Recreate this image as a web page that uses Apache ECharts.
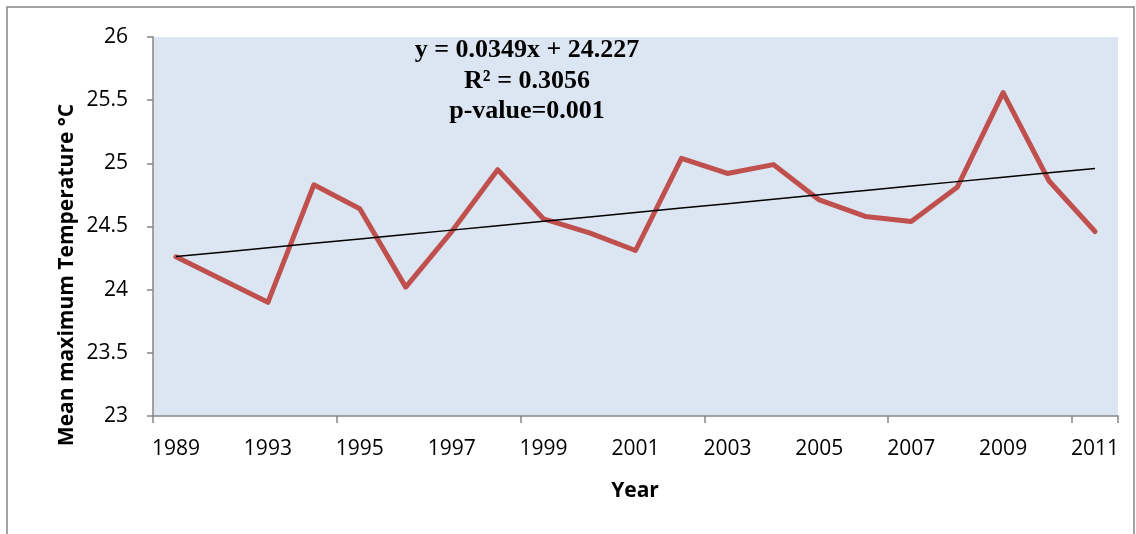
<!DOCTYPE html>
<html>
<head>
<meta charset="utf-8">
<script src="https://cdn.jsdelivr.net/npm/echarts@6/dist/echarts.min.js"></script>
<style>
html,body{margin:0;padding:0;background:#fff;}
#chart{width:1136px;height:534px;}
</style>
</head>
<body>
<div id="chart"></div>
<script>
// Categories (years) - labels shown every second category
var years = ['1989','1992','1993','1994','1995','1996','1997','1998','1999','2000','2001','2002','2003','2004','2005','2006','2007','2008','2009','2010','2011'];
// Mean maximum temperature (°C)
var tmax = [24.26, 24.08, 23.90, 24.83, 24.64, 24.02, 24.46, 24.95, 24.56, 24.45, 24.31, 25.04, 24.92, 24.99, 24.71, 24.58, 24.54, 24.81, 25.56, 24.86, 24.46];
// Linear trend as printed on the chart: y = 0.0349x + 24.227
var trendSlope = 0.0349;
var trendIntercept = 24.227;
var yTicks = [23, 23.5, 24, 24.5, 25, 25.5, 26];
var annotationLines = ['y = 0.0349x + 24.227', 'R² = 0.3056', 'p-value=0.001'];

var trend = years.map(function (y, i) { return +(trendSlope * (i + 1) + trendIntercept).toFixed(4); });

var chart = echarts.init(document.getElementById('chart'), null, {renderer: 'canvas'});
var axisGrey = '#868686';
var labelFont = '"Open Sans", "Noto Sans", sans-serif';
var annFont = 'bold 26px "Liberation Serif", "DejaVu Serif", serif';

chart.setOption({
  animation: false,
  backgroundColor: '#ffffff',
  grid: {
    left: 153, right: 18, top: 37, bottom: 118,
    show: true, backgroundColor: '#DCE6F2', borderWidth: 0
  },
  xAxis: {
    type: 'category',
    data: years,
    boundaryGap: true,
    axisLine: {show: true, lineStyle: {color: axisGrey, width: 1.5}},
    axisTick: {show: true, interval: 3, length: 7, lineStyle: {color: axisGrey, width: 1.5}},
    axisLabel: {interval: 1, margin: 23, color: '#000', fontSize: 21, fontFamily: labelFont},
    splitLine: {show: false}
  },
  yAxis: {
    type: 'value',
    min: yTicks[0],
    max: yTicks[yTicks.length - 1],
    interval: 0.5,
    axisLine: {show: true, lineStyle: {color: axisGrey, width: 1.5}},
    axisTick: {show: true, length: 6, lineStyle: {color: axisGrey, width: 1.5}},
    axisLabel: {margin: 25, color: '#000', fontSize: 21, fontFamily: labelFont},
    splitLine: {show: false}
  },
  graphic: [
    {
      type: 'rect', silent: true,
      shape: {x: 7, y: 7, width: 1127, height: 560},
      style: {fill: 'none', stroke: axisGrey, lineWidth: 1.5}
    },
    {
      type: 'text', silent: true,
      x: 67, y: 275, rotation: Math.PI / 2,
      style: {
        text: 'Mean maximum Temperature °C',
        font: 'bold 21px "Open Sans", "Noto Sans", sans-serif',
        fill: '#000', align: 'center', verticalAlign: 'middle'
      }
    },
    {
      type: 'text', silent: true,
      x: 635, y: 491,
      style: {
        text: 'Year',
        font: 'bold 21px "Open Sans", "Noto Sans", sans-serif',
        fill: '#000', align: 'center', verticalAlign: 'middle'
      }
    },
    {
      type: 'text', silent: true,
      x: 527, y: 50,
      style: {text: annotationLines[0], font: annFont, fill: '#000', align: 'center', verticalAlign: 'middle'}
    },
    {
      type: 'text', silent: true,
      x: 527, y: 81,
      style: {text: annotationLines[1], font: annFont, fill: '#000', align: 'center', verticalAlign: 'middle'}
    },
    {
      type: 'text', silent: true,
      x: 527, y: 111,
      style: {text: annotationLines[2], font: annFont, fill: '#000', align: 'center', verticalAlign: 'middle'}
    }
  ],
  series: [
    {
      name: 'Mean maximum temperature',
      type: 'line',
      data: tmax,
      symbol: 'none',
      lineStyle: {color: '#C0504D', width: 5, join: 'round', cap: 'round'},
      z: 3
    },
    {
      name: 'Linear trend',
      type: 'line',
      data: trend,
      symbol: 'none',
      lineStyle: {color: '#000000', width: 1.5},
      z: 4
    }
  ]
});
</script>
</body>
</html>
